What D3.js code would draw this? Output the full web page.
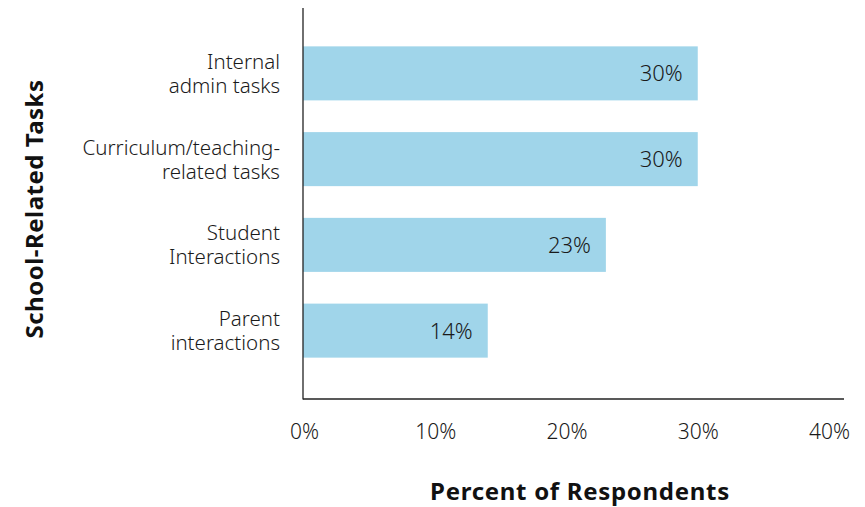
<!DOCTYPE html>
<html>
<head>
<meta charset="utf-8">
<script src="https://cdn.jsdelivr.net/npm/d3@7"></script>
<style>
  html, body { margin: 0; padding: 0; background: #fff; }
  svg { display: block; font-family: "Noto Sans", Lato, sans-serif; }
</style>
</head>
<body>
<svg id="chart" width="865" height="507"></svg>
<script>
// Survey data: share of respondents per school-related task
const categories = [
  ["Internal", "admin tasks"],
  ["Curriculum/teaching-", "related tasks"],
  ["Student", "Interactions"],
  ["Parent", "interactions"]
];
const values = [30, 30, 23, 14];
const xTicks = [0, 10, 20, 30, 40];

const FONT = "'Noto Sans', Lato, sans-serif";
const svg = d3.select("#chart");
const ids = categories.map((c, i) => i);

const x = d3.scaleLinear().domain([0, 40]).range([304, 829]);
const y = d3.scaleBand().domain(ids).range([30.5, 373.5]).paddingInner(0.37).paddingOuter(0.185);

// Bars
svg.append("g").selectAll("rect")
  .data(values)
  .join("rect")
  .attr("x", 303)
  .attr("y", (d, i) => y(i))
  .attr("width", d => x(d) - 303)
  .attr("height", y.bandwidth())
  .attr("fill", "#a0d5ea");

// Value labels inside bar ends
svg.append("g").selectAll("text")
  .data(values)
  .join("text")
  .attr("x", d => x(d) - 15)
  .attr("y", (d, i) => y(i) + y.bandwidth() / 2)
  .attr("dy", "0.36em")
  .attr("text-anchor", "end")
  .attr("font-size", 22)
  .attr("font-weight", 300)
  .attr("fill", "#1a1a1a")
  .text(d => d + "%");

// Category labels (two lines each)
const cat = svg.append("g").selectAll("text")
  .data(categories)
  .join("text")
  .attr("text-anchor", "end")
  .attr("font-size", 20.5)
  .attr("font-weight", 300)
  .attr("fill", "#1a1a1a");
cat.each(function(lines, i) {
  const cy = y(i) + y.bandwidth() / 2;
  d3.select(this).selectAll("tspan")
    .data(lines)
    .join("tspan")
    .attr("x", 280)
    .attr("y", (l, j) => cy + (j - 0.5) * 24)
    .attr("dy", "0.36em")
    .text(l => l);
});

// X axis
const xAxis = svg.append("g")
  .attr("transform", "translate(0,399)")
  .call(d3.axisBottom(x).tickValues(xTicks).tickSize(0).tickPadding(25).tickFormat(d => d + "%"));
xAxis.select(".domain").attr("stroke", "#222").attr("stroke-width", 1.3).attr("d", "M303,0H844");
xAxis.selectAll("text")
  .attr("font-size", 21).attr("font-weight", 300)
  .attr("fill", "#1a1a1a").attr("font-family", FONT);

// Y axis line
svg.append("line")
  .attr("x1", 303).attr("x2", 303)
  .attr("y1", 8).attr("y2", 399.6)
  .attr("stroke", "#222").attr("stroke-width", 1.3);

// Axis titles
svg.append("text")
  .attr("x", 580).attr("y", 500)
  .attr("text-anchor", "middle")
  .attr("font-size", 24).attr("font-weight", 700)
  .attr("letter-spacing", 0.7)
  .attr("fill", "#111")
  .text("Percent of Respondents");

svg.append("text")
  .attr("transform", "translate(43,209) rotate(-90)")
  .attr("text-anchor", "middle")
  .attr("font-size", 24).attr("font-weight", 700)
  .attr("letter-spacing", 0.5)
  .attr("fill", "#111")
  .text("School-Related Tasks");
</script>
</body>
</html>
